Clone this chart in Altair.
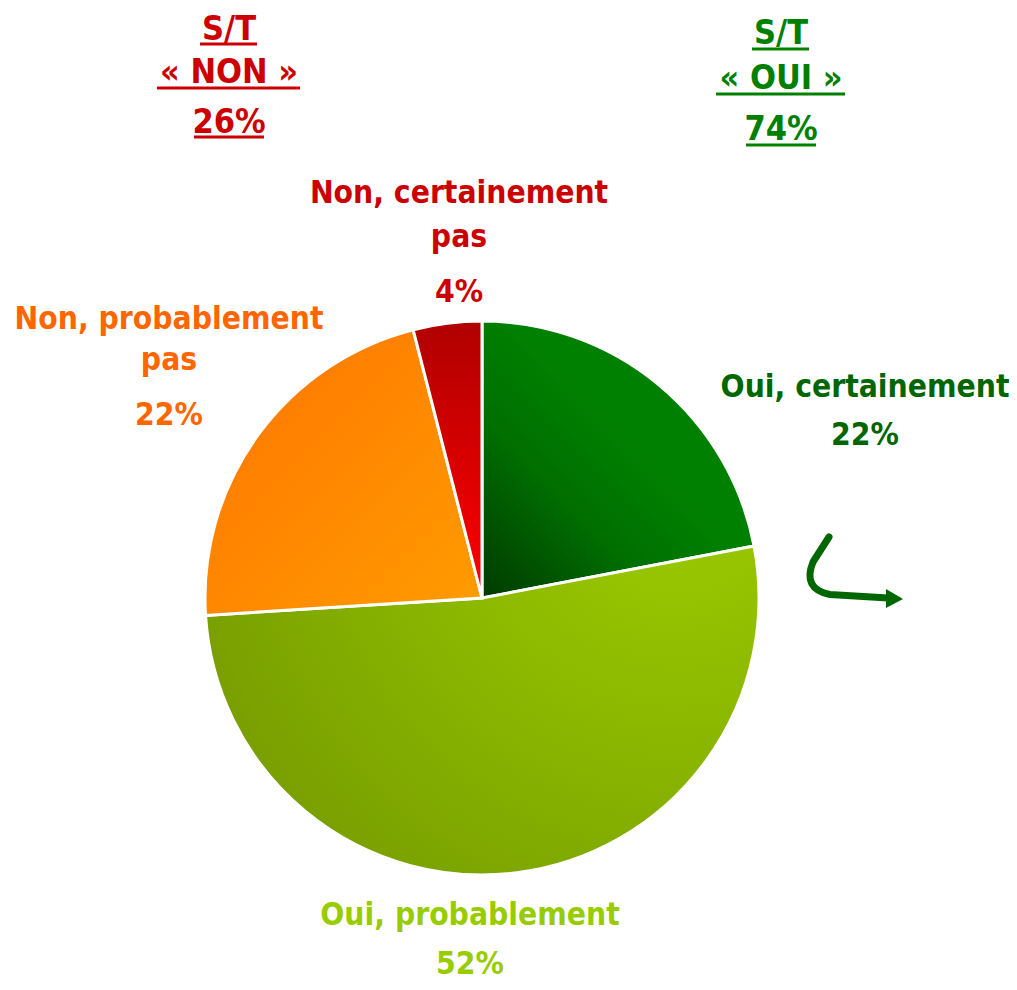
import math
import altair as alt
import pandas as pd

# ---- data -------------------------------------------------------------
categories = ["Oui, certainement", "Oui, probablement", "Non, probablement pas", "Non, certainement pas"]
values = [22, 52, 22, 4]
label_lines = [["Oui, certainement"], ["Oui, probablement"], ["Non, probablement", "pas"], ["Non, certainement", "pas"]]
pct_labels = ["22%", "52%", "22%", "4%"]
summary_titles = [["S/T", "« NON »"], ["S/T", "« OUI »"]]
summary_values = ["26%", "74%"]

# ---- styles -----------------------------------------------------------
FONT = "DejaVu Sans Condensed, DejaVu Sans"
CX, CY, R = 474, 590, 277

fills = [
    {"gradient": "linear", "x1": 0, "y1": 1, "x2": 0.55, "y2": 0.45,
     "stops": [{"offset": 0, "color": "#003a00"}, {"offset": 0.6, "color": "#006f00"}, {"offset": 1, "color": "#008000"}]},
    {"gradient": "radial", "x1": 0.85, "y1": 0.1, "r1": 0, "x2": 0.85, "y2": 0.1, "r2": 0.95,
     "stops": [{"offset": 0, "color": "#9ccc00"}, {"offset": 0.45, "color": "#8cb800"}, {"offset": 1, "color": "#779d00"}]},
    {"gradient": "linear", "x1": 0, "y1": 0, "x2": 1, "y2": 1,
     "stops": [{"offset": 0, "color": "#ff7400"}, {"offset": 1, "color": "#ff9c00"}]},
    {"gradient": "linear", "x1": 0.5, "y1": 0, "x2": 0.5, "y2": 1,
     "stops": [{"offset": 0, "color": "#b00000"}, {"offset": 1, "color": "#ff0000"}]},
]
text_colors = ["#006600", "#99cc00", "#ff6600", "#cc0000"]
# label anchor: x centre, baselines of each line (chart coordinates)
label_pos = [
    (857, [389, 437]),
    (462, [917, 966]),
    (161, [321, 362, 417]),
    (451, [195, 239, 294]),
]
title_colors = ["#cc0000", "#008000"]
title_pos = [(221, [32, 75, 125]), (773, [36, 81, 132])]
underline_spans = [
    [(192, 249, 36), (149, 292, 80), (186, 256, 129)],
    [(744, 801, 41), (708, 837, 86), (738, 808, 137)],
]

df = pd.DataFrame({"cat": categories, "value": values})
df["end"] = df["value"].cumsum()
df["start"] = df["end"] - df["value"]

theta_scale = alt.Scale(domain=[0, 100], range=[0, 2 * math.pi])

layers = []
for i, cat in enumerate(categories):
    layers.append(
        alt.Chart(df)
        .transform_filter(alt.datum.cat == cat)
        .mark_arc(radius=R, fill=fills[i], stroke="white", strokeWidth=3)
        .encode(
            theta=alt.Theta("start:Q", scale=theta_scale, stack=None),
            theta2="end:Q",
            x=alt.value(CX),
            y=alt.value(CY),
        )
    )


def text_layer(txt, x, y, color, size):
    return (
        alt.Chart(pd.DataFrame({"t": [txt]}))
        .mark_text(font=FONT, fontSize=size, fontWeight="bold", color=color,
                   align="center", baseline="alphabetic")
        .encode(text="t:N", x=alt.value(x), y=alt.value(y))
    )


for i in range(len(categories)):
    x, ys = label_pos[i]
    lines = label_lines[i] + [pct_labels[i]]
    for line, y in zip(lines, ys):
        layers.append(text_layer(line, x, y, text_colors[i], 31.5))

for i in range(2):
    x, ys = title_pos[i]
    lines = summary_titles[i] + [summary_values[i]]
    for line, y in zip(lines, ys):
        layers.append(text_layer(line, x, y, title_colors[i], 34))
    for (x1, x2, y) in underline_spans[i]:
        layers.append(
            alt.Chart(pd.DataFrame({"k": [0]}))
            .mark_rule(color=title_colors[i], strokeWidth=3)
            .encode(x=alt.value(x1), x2=alt.value(x2), y=alt.value(y))
        )

# curved arrow (decorative symbol shapes, unit box -1..1)
ARROW_CURVE = "M -0.48 -0.62 L -0.80 -0.12 Q -1.02 0.42 -0.46 0.53 L 0.70 0.60"
ARROW_HEAD = "M 1.0 0.62 L 0.66 0.42 L 0.66 0.80 Z"
arrow_df = pd.DataFrame({"k": [0]})
layers.append(
    alt.Chart(arrow_df)
    .mark_point(shape=ARROW_CURVE, size=10000, filled=False, stroke="#006600",
                strokeWidth=7, strokeCap="round", strokeJoin="round", opacity=1)
    .encode(x=alt.value(845), y=alt.value(560))
)
layers.append(
    alt.Chart(arrow_df)
    .mark_point(shape=ARROW_HEAD, size=10000, filled=True, fill="#006600",
                strokeWidth=0, opacity=1)
    .encode(x=alt.value(845), y=alt.value(560))
)

chart = (
    alt.layer(*layers)
    .properties(width=1001, height=974, autosize=alt.AutoSizeParams(type="none"), padding=0,
                background="white")
    .configure_view(stroke=None)
)

chart.save("out.html", embed_options={"renderer": "svg", "actions": False})
